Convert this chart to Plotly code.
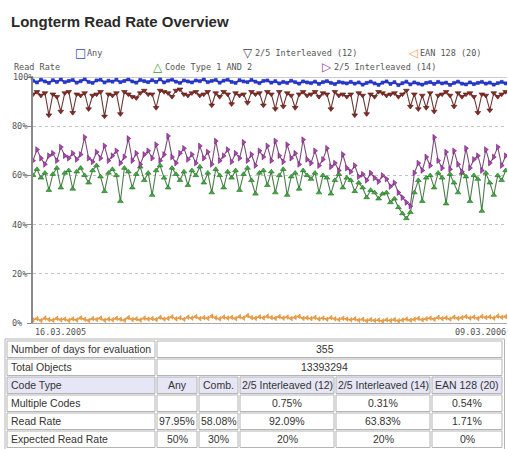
import pandas as pd
import plotly.graph_objects as go

# ---------------- data ----------------
start_date = "2005-03-16"
end_date = "2006-03-09"
dates = pd.date_range(start_date, periods=120, freq="3D")

rate_any = [
    98.5, 97.8, 98.9, 98.2, 97.6, 98.7, 98.0, 99.0, 97.9, 98.4,
    98.8, 97.7, 98.3, 99.1, 98.0, 97.6, 98.6, 98.9, 97.8, 98.5,
    98.1, 98.9, 97.9, 98.4, 99.0, 98.2, 97.7, 98.8, 98.3, 97.9,
    98.7, 98.0, 99.1, 97.8, 98.5, 98.9, 98.1, 97.6, 98.6, 98.2,
    97.8, 98.6, 98.3, 99.0, 97.9, 98.4, 98.8, 97.7, 98.5, 98.9,
    98.0, 97.6, 98.7, 98.2, 97.9, 98.8, 98.1, 97.5, 98.4, 98.6,
    97.7, 98.3, 97.4, 98.0, 97.6, 98.5, 97.9, 97.3, 98.2, 97.8,
    97.5, 98.1, 97.2, 97.9, 98.3, 97.6, 97.1, 98.0, 97.7, 97.4,
    98.0, 97.3, 97.8, 96.9, 97.6, 98.1, 97.4, 96.8, 97.7, 98.2,
    97.2, 97.9, 96.7, 97.5, 98.1, 97.0, 97.8, 97.3, 96.9, 97.6,
    97.9, 97.2, 98.0, 97.4, 97.7, 96.8, 97.6, 98.1, 97.3, 97.0,
    97.8, 97.1, 97.6, 98.0, 97.3, 97.7, 96.9, 97.5, 98.0, 97.4,
]

rate_comb = [
    60.0, 62.5, 59.0, 61.0, 54.0, 60.5, 63.0, 55.0, 61.0, 62.0,
    54.5, 61.5, 63.0, 60.0, 57.0, 62.0, 64.0, 59.5, 53.5, 61.0,
    62.5, 60.0, 49.5, 63.0, 61.5, 55.0, 60.5, 63.5, 58.0, 61.0,
    52.0, 62.0, 64.0, 59.0, 55.0, 63.0, 60.5, 58.0, 61.5, 56.0,
    62.0, 60.0, 63.5, 57.0, 61.0, 53.0, 62.5, 60.0, 55.0, 61.5,
    59.0, 62.0, 54.0, 60.5, 63.0, 58.0, 52.5, 61.0, 62.0, 56.0,
    61.5, 53.0, 60.0, 62.5, 52.0, 59.5, 61.0, 54.5, 62.0, 60.0,
    58.5, 61.0, 53.0, 60.0, 59.0, 52.5, 58.0, 60.5, 55.0, 59.0,
    58.0, 53.5, 57.0, 55.0, 51.0, 54.0, 53.0, 50.5, 52.5, 53.0,
    49.0, 50.5, 47.0, 44.5, 42.5, 45.0, 53.0, 58.0, 49.5, 59.0,
    60.0, 55.0, 61.0, 59.0, 48.5, 60.5, 57.0, 53.0, 61.0, 59.5,
    49.5, 60.0, 58.5, 45.5, 61.0, 57.0, 52.0, 60.0, 58.0, 62.0,
]

rate_i25_12 = [
    93.0, 94.0, 92.5, 93.5, 84.5, 93.0, 92.0, 86.0, 93.5, 94.0,
    85.5, 93.0, 92.5, 93.5, 87.0, 92.5, 93.0, 94.0, 84.0, 93.0,
    92.5, 93.5, 85.0, 94.0, 93.0, 92.0, 91.5, 93.5, 94.5, 93.0,
    93.0, 87.5, 94.5, 94.0, 93.5, 92.0, 94.5, 95.0, 93.0, 92.5,
    93.5, 94.0, 92.5, 93.0, 94.0, 88.5, 93.5, 92.0, 94.0, 93.0,
    89.0, 93.5, 92.5, 93.0, 89.5, 94.0, 93.0, 93.5, 88.5, 94.0,
    93.0, 87.0, 94.0, 88.0, 93.5, 92.5, 87.5, 93.0, 94.0, 92.5,
    93.0, 94.0, 92.0, 93.5, 93.0, 87.0, 94.0, 92.5, 93.0, 92.0,
    93.0, 84.5, 93.5, 92.5, 85.0, 93.0, 92.0, 94.0, 93.5, 92.5,
    93.0, 93.5, 92.0, 93.0, 94.5, 88.0, 93.0, 87.0, 92.5, 87.5,
    93.5, 86.0, 92.5, 93.0, 94.0, 92.5, 88.0, 93.5, 92.0, 93.0,
    93.5, 92.0, 85.5, 93.0, 92.5, 86.5, 93.5, 92.0, 93.0, 94.0,
]

rate_i25_14 = [
    66.0, 70.5, 67.0, 64.5, 68.0, 69.0, 66.0, 71.5, 68.0, 67.0,
    69.0, 66.5, 68.5, 75.5, 67.0, 65.5, 69.5, 67.0, 72.0, 66.0,
    68.0, 70.0, 65.0, 67.5, 75.0, 66.0, 69.0, 64.5, 68.5, 70.0,
    67.0, 72.5, 66.0, 68.5, 76.0, 67.5, 65.0, 69.0, 71.0, 66.5,
    68.5, 65.0, 72.0, 67.0, 69.5, 64.5, 74.0, 66.0, 68.0, 70.5,
    65.5, 69.0, 67.0, 73.5, 66.0, 68.5, 64.0, 70.0, 67.5, 72.0,
    66.0, 74.0, 68.0, 65.5, 72.5, 67.0, 69.0, 64.5, 74.5, 66.5,
    65.0, 70.0, 64.0, 66.5, 71.0, 63.5, 65.0, 62.0, 68.5, 63.0,
    61.5, 64.0, 59.5, 60.5, 58.0, 61.0, 59.0, 57.5, 60.0, 58.5,
    55.5, 57.0, 53.0, 51.0, 49.0, 47.5, 61.0, 65.0, 62.0, 67.5,
    64.0, 75.5, 66.0, 63.0, 69.5, 62.5, 70.0, 64.5, 61.5, 71.0,
    63.0, 66.5, 68.0, 62.0, 70.5, 65.0, 67.5, 71.5, 64.0, 68.0,
]

rate_ean128 = [
    1.2, 1.8, 1.0, 2.0, 1.4, 1.1, 1.9, 1.3, 1.6, 1.0,
    1.7, 1.2, 2.1, 1.5, 1.0, 1.8, 1.4, 2.0, 1.1, 1.6,
    1.3, 1.9, 1.5, 1.1, 2.2, 1.4, 1.7, 1.2, 2.0, 1.6,
    1.8, 1.4, 2.3, 1.6, 1.9, 2.5, 1.7, 2.1, 1.5, 2.4,
    2.0, 2.6, 1.8, 2.2, 1.9, 2.8, 2.1, 1.7, 2.4, 2.0,
    2.3, 1.8, 2.6, 2.0, 3.0, 2.2, 1.9, 2.5, 2.1, 2.7,
    2.2, 1.9, 2.6, 2.0, 2.4, 1.8, 2.3, 2.7, 1.9, 2.1,
    1.8, 2.3, 1.6, 2.0, 1.5, 2.2, 1.7, 1.4, 1.9, 1.6,
    1.3, 1.7, 1.1, 1.5, 0.9, 1.4, 1.0, 1.2, 0.8, 1.3,
    1.0, 1.4, 0.9, 1.2, 1.6, 1.1, 1.5, 1.9, 1.3, 1.7,
    2.0, 1.5, 2.3, 1.8, 2.1, 1.6, 2.4, 1.9, 2.2, 2.6,
    2.0, 2.4, 1.8, 2.7, 2.2, 2.5, 2.0, 2.8, 2.3, 2.6,
]

series_names = ["Any", "Code Type 1 AND 2", "2/5 Interleaved (12)",
                "2/5 Interleaved (14)", "EAN 128 (20)"]
y_ticks = [0, 20, 40, 60, 80, 100]
x_tick_labels = ["16.03.2005", "09.03.2006"]

# table data
table_labels = ["Number of days for evaluation", "Total Objects", "Code Type",
                "Multiple Codes", "Read Rate", "Expected Read Rate"]
days_eval = "355"
total_objects = "13393294"
code_types = ["Any", "Comb.", "2/5 Interleaved (12)", "2/5 Interleaved (14)", "EAN 128 (20)"]
multiple_codes = ["", "", "0.75%", "0.31%", "0.54%"]
read_rate = ["97.95%", "58.08%", "92.09%", "63.83%", "1.71%"]
expected_rate = ["50%", "30%", "20%", "20%", "0%"]

# ---------------- layout helpers ----------------
W, H = 508, 449
L, R, T, B = 33, 1, 77, 126
PW = W - L - R
PH = H - T - B


def px(x):
    return (x - L) / PW


def py(y):
    return (H - B - y) / PH


MONO = "DejaVu Sans Mono"
SANS = "Liberation Sans, Arial"

fig = go.Figure()

styles = [
    # name, data, symbol, marker color, marker line, line color, size, width
    (series_names[4], rate_ean128, "triangle-left", "#f2a24a", "#d98a30", "#eea050", 4, 1.3),
    (series_names[1], rate_comb, "triangle-up", "#3aae3a", "#2a6a2a", "#4d7d4d", 5, 1.1),
    (series_names[3], rate_i25_14, "triangle-right", "#b040b8", "#6a2a6a", "#7a4f7a", 5, 1.1),
    (series_names[2], rate_i25_12, "triangle-down", "#8e2a22", "#4a1a1a", "#6a3a36", 5, 1.1),
    (series_names[0], rate_any, "square", "#2a3ad8", "#1a2ab0", "#2233cc", 3, 1.8),
]
for name, vals, sym, mc, mlc, lc, ms, lw in styles:
    fig.add_trace(go.Scatter(
        x=dates, y=vals, name=name, mode="lines+markers",
        line=dict(color=lc, width=lw),
        marker=dict(symbol=sym, size=ms, color=mc, line=dict(color=mlc, width=0.6)),
        showlegend=False,
    ))

shapes = []
annotations = []

# top line at 100%
shapes.append(dict(type="line", xref="paper", yref="y", x0=0, x1=1, y0=100, y1=100,
                   line=dict(color="#9a9a9a", width=1)))

# y labels
for v in y_ticks:
    annotations.append(dict(xref="paper", yref="y", x=px(10 if v < 100 else 11), y=v,
                            text=f"{v}%", showarrow=False, xanchor="left", yanchor="middle",
                            font=dict(family=MONO, size=8.5, color="#555")))
# x labels
annotations.append(dict(xref="paper", yref="paper", x=px(33), y=py(332), text=x_tick_labels[0],
                        showarrow=False, xanchor="left", yanchor="middle",
                        font=dict(family=MONO, size=8.5, color="#555")))
annotations.append(dict(xref="paper", yref="paper", x=px(508), y=py(332), text=x_tick_labels[1],
                        showarrow=False, xanchor="right", yanchor="middle",
                        font=dict(family=MONO, size=8.5, color="#555")))

# title
annotations.append(dict(xref="paper", yref="paper", x=px(9), y=py(22),
                        text="<b>Longterm Read Rate Overview</b>", showarrow=False,
                        xanchor="left", yanchor="middle",
                        font=dict(family=SANS, size=15, color="#2a2a2a")))

# "Read Rate" axis caption
annotations.append(dict(xref="paper", yref="paper", x=px(12), y=py(67), text="Read Rate",
                        showarrow=False, xanchor="left", yanchor="middle",
                        font=dict(family=MONO, size=8.5, color="#555")))

# legend
legend_items = [
    ("□", "#3344b0", 80, 53, series_names[0]),
    ("▽", "#404040", 248, 53, series_names[2]),
    ("◁", "#f0a060", 413, 53, series_names[4]),
    ("△", "#3a9a3a", 158, 67, series_names[1]),
    ("▷", "#9040a8", 327, 67, series_names[3]),
]
for sym, col, xc, yc, label in legend_items:
    annotations.append(dict(xref="paper", yref="paper", x=px(xc), y=py(yc), text=sym,
                            showarrow=False, xanchor="center", yanchor="middle",
                            font=dict(family="DejaVu Sans", size=12, color=col)))
    annotations.append(dict(xref="paper", yref="paper", x=px(xc + 5), y=py(yc), text=label,
                            showarrow=False, xanchor="left", yanchor="middle",
                            font=dict(family=MONO, size=8.5, color="#555")))

# table
border = "#b4b4b4"
shapes.append(dict(type="rect", xref="paper", yref="paper",
                   x0=px(5), x1=px(504.5), y0=py(339), y1=py(452),
                   line=dict(color=border, width=1), fillcolor="white", layer="below"))
row_tops = [341, 359, 377, 395, 413, 431]
row_h = 16.5
label_cell = (7, 155)
span_cell = (157, 502)
value_cells = [(157, 197), (199, 238), (240, 334), (336, 430), (432, 502)]
row_values = [None, None, code_types, multiple_codes, read_rate, expected_rate]
span_values = [days_eval, total_objects]
TFS = 10.5

for r, top in enumerate(row_tops):
    fill = "#e6e6f6" if r == 2 else "white"
    yc = top + row_h / 2
    cells = [label_cell] + ([span_cell] if r < 2 else value_cells)
    for (a, b) in cells:
        shapes.append(dict(type="rect", xref="paper", yref="paper",
                           x0=px(a), x1=px(b), y0=py(top), y1=py(top + row_h),
                           line=dict(color=border, width=1), fillcolor=fill, layer="below"))
    annotations.append(dict(xref="paper", yref="paper", x=px(9), y=py(yc), text=table_labels[r],
                            showarrow=False, xanchor="left", yanchor="middle",
                            font=dict(family=SANS, size=TFS, color="#333")))
    if r < 2:
        annotations.append(dict(xref="paper", yref="paper", x=px((span_cell[0] + span_cell[1]) / 2 - 5),
                                y=py(yc), text=span_values[r], showarrow=False,
                                xanchor="center", yanchor="middle",
                                font=dict(family=SANS, size=TFS, color="#333")))
    else:
        for (a, b), txt in zip(value_cells, row_values[r]):
            if txt:
                annotations.append(dict(xref="paper", yref="paper", x=px((a + b) / 2), y=py(yc),
                                        text=txt, showarrow=False, xanchor="center", yanchor="middle",
                                        font=dict(family=SANS, size=TFS, color="#333")))

fig.update_layout(
    width=W, height=H,
    margin=dict(l=L, r=R, t=T, b=B, pad=0),
    paper_bgcolor="white", plot_bgcolor="white",
    showlegend=False,
    xaxis=dict(type="date", range=[start_date, end_date], showgrid=False,
               showticklabels=False, ticks="", showline=True, linecolor="#a8a8a8",
               linewidth=1, zeroline=False, fixedrange=True),
    yaxis=dict(range=[0, 100], tickvals=y_ticks, showticklabels=False,
               ticks="outside", ticklen=4, tickcolor="#888", tickwidth=1,
               showgrid=True, gridcolor="#c4c4c4", griddash="dot", gridwidth=1,
               showline=True, linecolor="#8a8a8a", linewidth=2, zeroline=False,
               fixedrange=True),
    shapes=shapes,
    annotations=annotations,
)

fig.write_html(
    "out.html",
    config={"displayModeBar": False},
    post_script="document.body.style.margin='0';document.body.style.overflow='hidden';",
)
